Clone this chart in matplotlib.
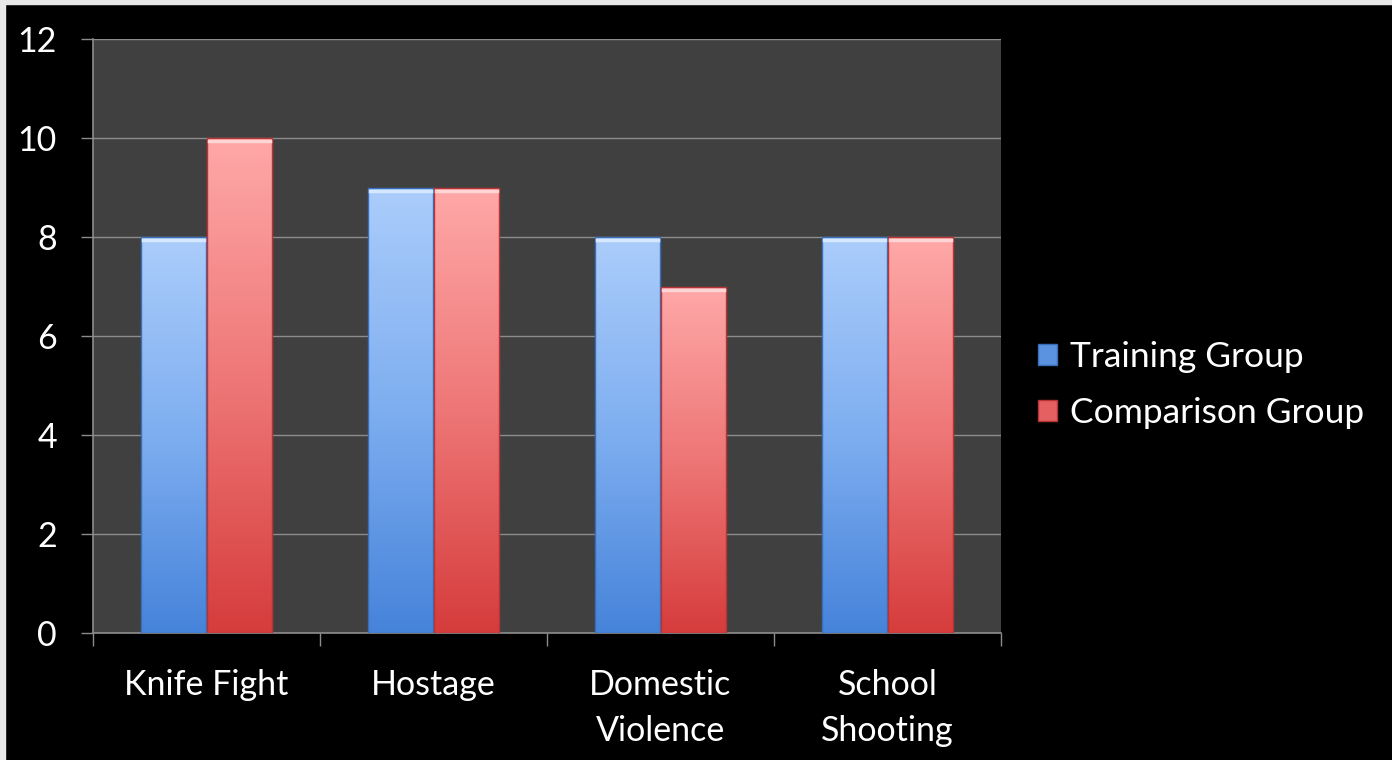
import numpy as np
import matplotlib
matplotlib.use("Agg")
import matplotlib.pyplot as plt
from matplotlib.colors import LinearSegmentedColormap
from matplotlib.patches import Rectangle

categories = ["Knife Fight", "Hostage", "Domestic\nViolence", "School\nShooting"]
training = [8, 9, 8, 8]
comparison = [10, 9, 7, 8]
series_names = ["Training Group", "Comparison Group"]
yticks = [0, 2, 4, 6, 8, 10, 12]

plt.rcParams['font.family'] = ['Lato', 'DejaVu Sans']

fig = plt.figure(figsize=(13.92, 7.6), dpi=100, facecolor='black')
fig.patches.append(Rectangle((0, 0), 5/1392, 1, transform=fig.transFigure, color='#e8e8e8', zorder=10))
fig.patches.append(Rectangle((0, 1 - 4/760), 1, 4/760, transform=fig.transFigure, color='#e8e8e8', zorder=10))

ax = fig.add_axes([93/1392, 127/760, 908/1392, 594/760])
ax.set_facecolor('#404040')

x = np.arange(len(categories))
w = 65/227
blue_cmap = LinearSegmentedColormap.from_list('b', ['#4683da', '#7eaef0', '#abcdfb'])
red_cmap = LinearSegmentedColormap.from_list('r', ['#d63c3c', '#ee7676', '#ffa8a8'])

bars1 = ax.bar(x - w/2 - 0.002, training, width=w, color='none', edgecolor='none', zorder=3)
bars2 = ax.bar(x + w/2 + 0.002, comparison, width=w, color='none', edgecolor='none', zorder=3)

grad = np.linspace(0, 1, 256).reshape(-1, 1)
for bars, cmap, edge, hl in [(bars1, blue_cmap, '#3a6fb8', '#d6e8ff'), (bars2, red_cmap, '#b83434', '#ffd4d4')]:
    for b in bars:
        x0, y0 = b.get_x(), b.get_y()
        bw, bh = b.get_width(), b.get_height()
        im = ax.imshow(grad, extent=[x0, x0 + bw, y0, y0 + bh], origin='lower',
                       cmap=cmap, aspect='auto', zorder=3)
        im.set_clip_path(b)
        ax.add_patch(Rectangle((x0, y0), bw, bh, fill=False, edgecolor=edge, lw=1.0, zorder=4))
        ax.plot([x0 + 0.01, x0 + bw - 0.01], [y0 + bh - 0.07, y0 + bh - 0.07], color=hl, lw=2.5, zorder=4)

ax.set_xlim(-0.5, len(categories) - 0.5)
ax.set_ylim(0, 12)
ax.set_yticks(yticks)
ax.set_yticklabels([str(t) for t in yticks])
ax.grid(axis='y', color='#8c8c8c', lw=1, zorder=1)
ax.set_axisbelow(True)

ax.set_xticks(x)
ax.set_xticklabels(categories, linespacing=1.55)
ax.set_xticks(np.arange(len(categories) + 1) - 0.5, minor=True)
ax.tick_params(axis='x', which='major', length=0, pad=26, labelsize=24.5, colors='white')
ax.tick_params(axis='x', which='minor', length=9, width=1, color='#8c8c8c', direction='out')
ax.tick_params(axis='y', length=9, width=1, color='#8c8c8c', pad=17, labelsize=24.5, labelcolor='white')

for s in ['top', 'right']:
    ax.spines[s].set_visible(False)
for s in ['left', 'bottom']:
    ax.spines[s].set_color('#8c8c8c')
    ax.spines[s].set_linewidth(1.2)

handles = [Rectangle((0, 0), 1, 1, facecolor='#5b93e0', edgecolor='#3a6fb8'),
           Rectangle((0, 0), 1, 1, facecolor='#e56060', edgecolor='#b83434')]
leg = fig.legend(handles, series_names, loc='center left', bbox_to_anchor=(1006/1392, 1 - 385/760),
                 frameon=False, fontsize=25.5, handlelength=0.55, handleheight=0.55,
                 handletextpad=0.35, labelspacing=0.68, labelcolor='white')

fig.savefig('out.png', dpi=100, facecolor='black')
